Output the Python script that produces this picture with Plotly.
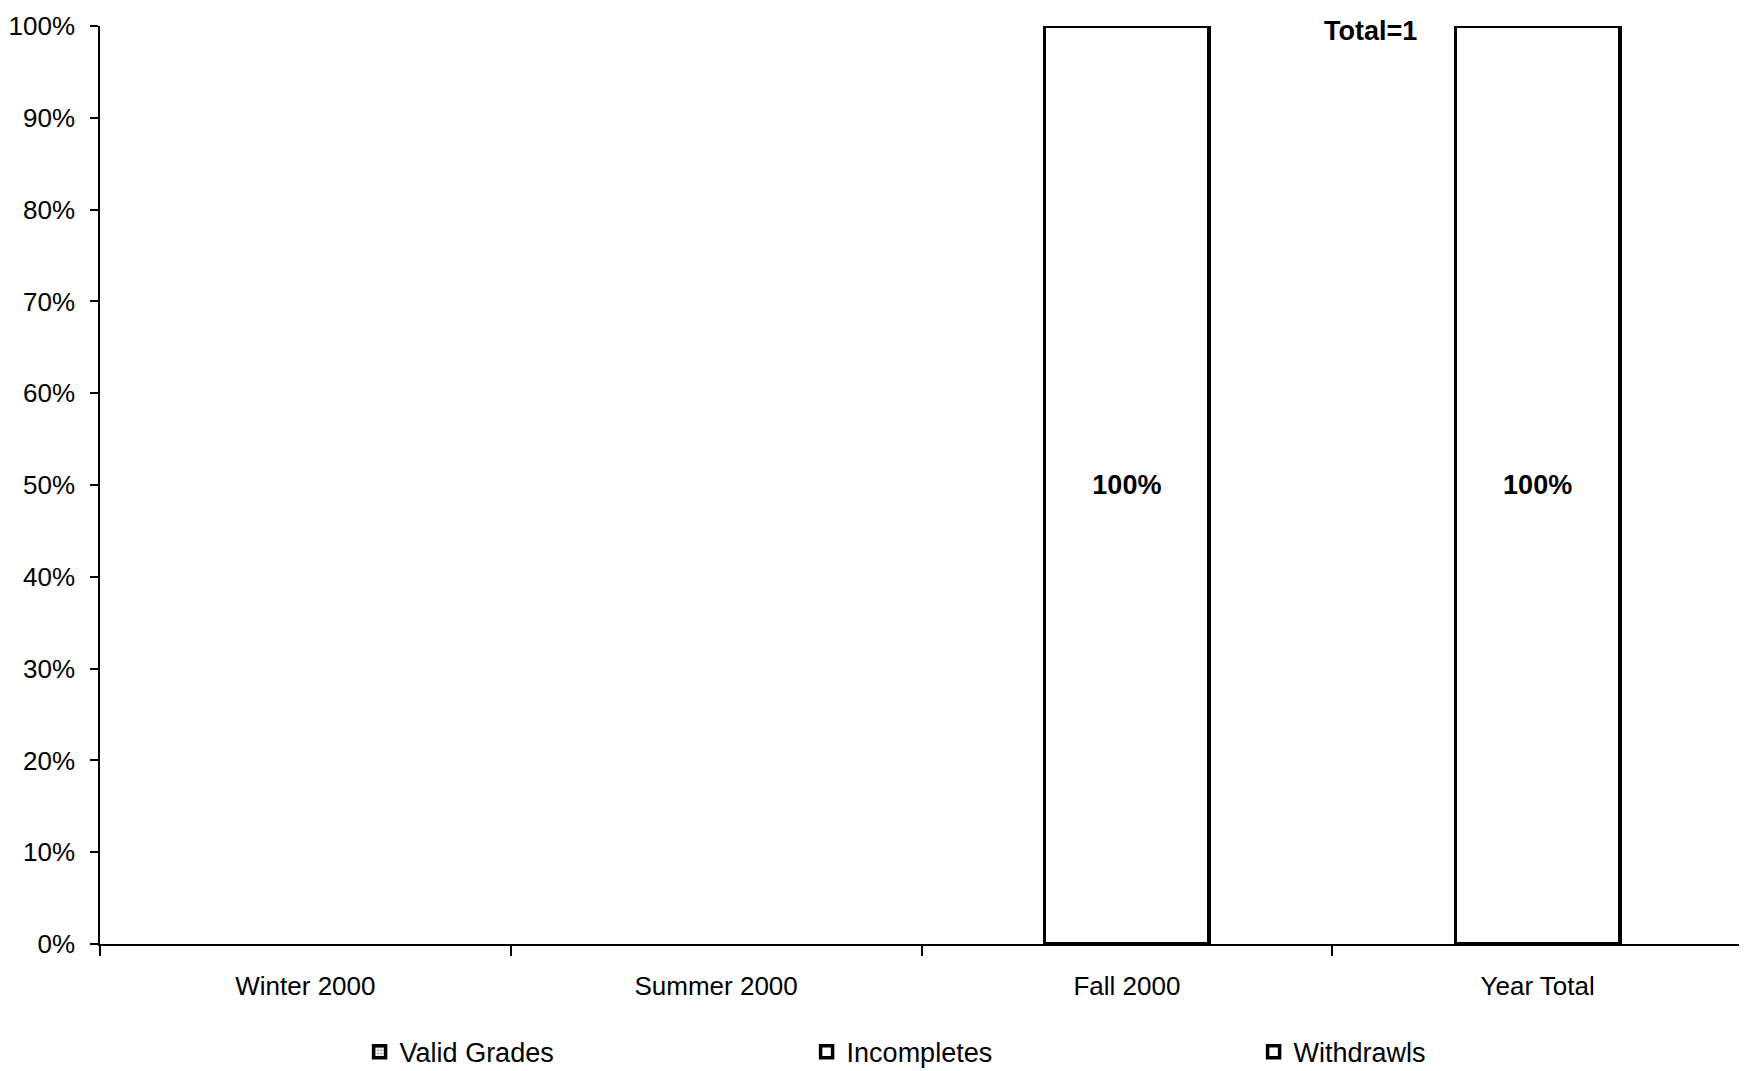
import plotly.graph_objects as go

categories = ["Winter 2000", "Summer 2000", "Fall 2000", "Year Total"]
valid_grades = [None, None, 0, 0]
incompletes = [None, None, 0, 0]
withdrawls = [None, None, 100, 100]
y_ticks = [0, 10, 20, 30, 40, 50, 60, 70, 80, 90, 100]
y_tick_labels = [f"{v}%" for v in y_ticks]
total_note = "Total=1"

FONT = "Liberation Sans, Arial, sans-serif"
FS = 26
FSB = 27

def lbl(vals):
    return [f"{v:.0f}%" if (v is not None and v > 0) else "" for v in vals]

fig = go.Figure()
fig.add_trace(go.Bar(
    name="Valid Grades", x=categories, y=valid_grades,
    marker=dict(color="white", line=dict(color="black", width=3.5),
                pattern=dict(shape=".", fgcolor="#555555", bgcolor="white", size=4, solidity=0.5)),
    text=lbl(valid_grades), textposition="inside",
))
fig.add_trace(go.Bar(
    name="Incompletes", x=categories, y=incompletes,
    marker=dict(color="white", line=dict(color="black", width=3.5)),
    text=lbl(incompletes), textposition="inside",
))
fig.add_trace(go.Bar(
    name="Withdrawls", x=categories, y=withdrawls,
    marker=dict(color="white", line=dict(color="black", width=3.5)),
    text=lbl(withdrawls), textposition="inside",
))
fig.update_traces(
    textfont=dict(family=FONT, size=FSB, color="black", weight="bold"),
    insidetextanchor="middle", textangle=0, constraintext="none",
)

fig.add_annotation(
    text=total_note, xref="paper", yref="paper", x=0.773, y=0.995,
    xanchor="center", yanchor="middle", showarrow=False,
    font=dict(family=FONT, size=FSB, color="black", weight="bold"),
)

fig.update_layout(
    width=1739, height=1063,
    barmode="stack", bargap=0.6,
    plot_bgcolor="white", paper_bgcolor="white",
    margin=dict(l=92, r=4, t=18, b=127, autoexpand=False),
    font=dict(family=FONT, size=FS, color="black"),
    showlegend=True,
    legend=dict(
        orientation="h", x=0.158, xanchor="left", y=-0.118, yanchor="middle",
        entrywidth=402, entrywidthmode="pixels", itemwidth=30,
        font=dict(family=FONT, size=FSB, color="black"),
        traceorder="normal",
    ),
    xaxis=dict(
        showline=True, linecolor="black", linewidth=1.5, automargin=False,
        ticks="outside", tickson="boundaries", ticklen=10, tickcolor="black", tickwidth=1.5,
        ticklabelstandoff=18, showgrid=False,
    ),
    yaxis=dict(
        range=[0, 100], tickvals=y_ticks, ticktext=y_tick_labels, automargin=False,
        showline=True, linecolor="black", linewidth=1.5, ticklabeloverflow="allow",
        ticks="outside", ticklen=8, tickcolor="black", tickwidth=1.5,
        ticklabelstandoff=10, showgrid=False, zeroline=False,
    ),
)

fig.write_html("out.html")
